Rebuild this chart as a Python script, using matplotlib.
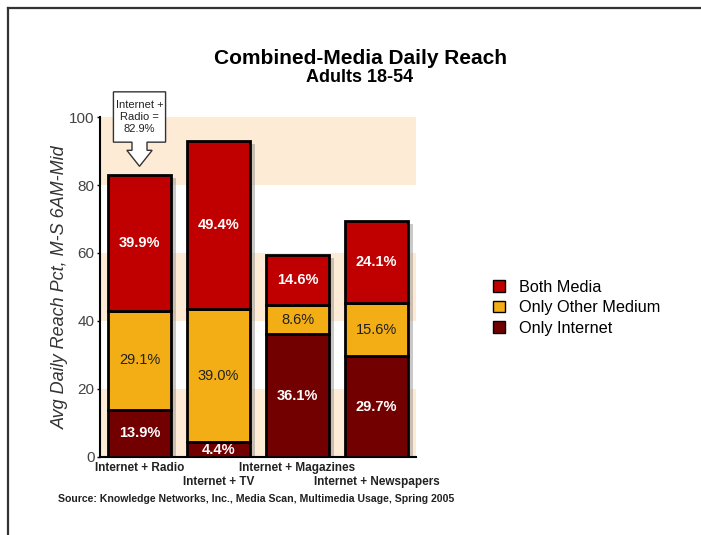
import matplotlib
matplotlib.use("Agg")
import matplotlib.pyplot as plt
import matplotlib.patheffects as pe
from matplotlib.patches import Polygon
from matplotlib.lines import Line2D
from matplotlib.patches import Patch

plt.rcParams['font.family'] = ['Liberation Sans', 'DejaVu Sans']

categories = ["Internet + Radio", "Internet + TV", "Internet + Magazines", "Internet + Newspapers"]
only_internet = [13.9, 4.4, 36.1, 29.7]
only_other = [29.1, 39.0, 8.6, 15.6]
both_media = [39.9, 49.4, 14.6, 24.1]
callout_text = "Internet +\nRadio =\n82.9%"

c_both = "#c00000"
c_other = "#f2ae14"
c_inet = "#730000"
c_band = "#fdebd5"

fig = plt.figure(figsize=(7.01, 5.35), dpi=100)
ax = fig.add_axes([100/701, 78/535, 316/701, 340/535])

# alternating background bands
for lo in (0, 40, 80):
    ax.axhspan(lo, lo + 20, color=c_band, zorder=0, lw=0)

x = list(range(len(categories)))
w = 0.81
base2 = [a + b for a, b in zip(only_internet, only_other)]
totals = [a + b for a, b in zip(base2, both_media)]

# drop shadow behind each whole bar
sh = ax.bar(x, totals, w, color="#999999", lw=0, zorder=2)
for p in sh:
    p.set_path_effects([pe.SimplePatchShadow(offset=(3, -2), shadow_rgbFace="#888888", alpha=0.45)])

ax.bar(x, only_internet, w, color=c_inet, edgecolor="black", lw=2, zorder=3)
ax.bar(x, only_other, w, bottom=only_internet, color=c_other, edgecolor="black", lw=2, zorder=3)
ax.bar(x, both_media, w, bottom=base2, color=c_both, edgecolor="black", lw=2, zorder=3)

for i in x:
    ax.text(i, only_internet[i] / 2, f"{only_internet[i]}%", ha="center", va="center",
            color="white", fontsize=10.5, fontweight="bold", zorder=5)
    ax.text(i, only_internet[i] + only_other[i] / 2, f"{only_other[i]}%", ha="center", va="center",
            color="#222222", fontsize=10.5, zorder=5)
    ax.text(i, base2[i] + both_media[i] / 2, f"{both_media[i]}%", ha="center", va="center",
            color="white", fontsize=10.5, fontweight="bold", zorder=5)

# callout arrow over first bar
tot = totals[0]
cx = x[0]
pts = [(cx - 0.33, tot + 24.5), (cx + 0.33, tot + 24.5), (cx + 0.33, tot + 9.7),
       (cx + 0.095, tot + 9.7), (cx + 0.095, tot + 7.3), (cx + 0.16, tot + 7.3),
       (cx, tot + 2.6), (cx - 0.16, tot + 7.3), (cx - 0.095, tot + 7.3),
       (cx - 0.095, tot + 9.7), (cx - 0.33, tot + 9.7)]
poly = Polygon(pts, closed=True, facecolor="white", edgecolor="#333333", lw=1.0,
               clip_on=False, zorder=6)
ax.add_patch(poly)
ax.text(cx, tot + 17.1, callout_text, ha="center", va="center", fontsize=8,
        linespacing=1.2, color="#222222", zorder=7, clip_on=False)

ax.set_xlim(-0.5, 3.5)
ax.set_ylim(0, 100)
ax.set_yticks([0, 20, 40, 60, 80, 100])
ax.tick_params(axis="y", labelsize=11, labelcolor="#444444", length=2, width=1, pad=2)
ax.set_xticks([])
# staggered category labels below the bars
for i, c in enumerate(categories):
    dy = -5 if i % 2 == 0 else -19
    ax.annotate(c, xy=(i, 0), xycoords=("data", "axes fraction"), xytext=(0, dy),
                textcoords="offset pixels", ha="center", va="top",
                fontsize=8.5, fontweight="bold", color="#222222", annotation_clip=False)
for s in ("top", "right"):
    ax.spines[s].set_visible(False)
ax.spines["left"].set_linewidth(1.5)
ax.spines["bottom"].set_linewidth(1.5)
ax.set_ylabel("Avg Daily Reach Pct, M-S 6AM-Mid", fontsize=13, style="italic",
              color="#333333", labelpad=0)

fig.text(360/701, 1 - 64/535, "Combined-Media Daily Reach", ha="center", va="baseline",
         fontsize=15, fontweight="bold")
fig.text(360/701, 1 - 82/535, "Adults 18-54", ha="center", va="baseline",
         fontsize=13, fontweight="bold")
fig.text(256/701, 1 - 499/535,
         "Source: Knowledge Networks, Inc., Media Scan, Multimedia Usage, Spring 2005",
         ha="center", va="center", fontsize=7.6, fontweight="bold", color="#222222")

handles = [Patch(facecolor=c_both, edgecolor="black"),
           Patch(facecolor=c_other, edgecolor="black"),
           Patch(facecolor=c_inet, edgecolor="black")]
fig.legend(handles, ["Both Media", "Only Other Medium", "Only Internet"],
           loc="upper left", bbox_to_anchor=(486/701, 1 - 273/535), frameon=False,
           fontsize=11.7, handlelength=0.75, handleheight=0.75, handletextpad=0.9,
           labelspacing=0.35, borderaxespad=0)

# outer frame (top and left edges)
fig.add_artist(Line2D([8/701, 1], [1 - 8/535, 1 - 8/535], color="#333333", lw=1.6))
fig.add_artist(Line2D([8/701, 8/701], [0, 1 - 8/535], color="#333333", lw=1.6))

fig.savefig("out.png", dpi=100)
